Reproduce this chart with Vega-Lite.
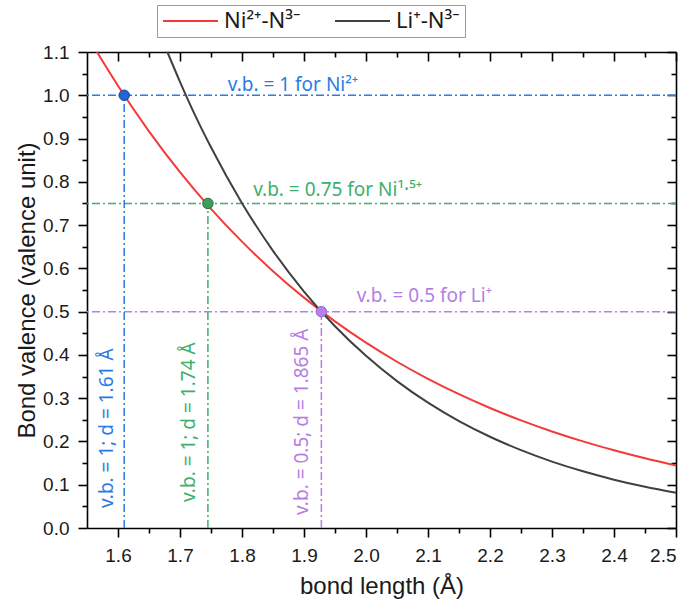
{
  "$schema": "https://vega.github.io/schema/vega-lite/v6.json",
  "width": 589,
  "height": 476,
  "autosize": {"type": "none"},
  "padding": {"left": 87, "top": 52, "right": 16, "bottom": 80},
  "background": "white",
  "config": {
    "font": "Liberation Sans",
    "view": {"stroke": null},
    "axis": {
      "grid": false,
      "domainColor": "#000000",
      "domainWidth": 1.6,
      "tickColor": "#000000",
      "tickWidth": 1.6,
      "labelColor": "#1a1a1a",
      "titleColor": "#1a1a1a",
      "labelFont": "Liberation Sans",
      "titleFont": "Liberation Sans",
      "titleFontWeight": "normal"
    },
    "legend": {"labelFont": "Noto Sans"}
  },
  "datasets": {
    "curves": [
      {"series": "Ni²⁺-N³⁻", "d": 1.566, "v": 1.1},
      {"series": "Ni²⁺-N³⁻", "d": 1.6, "v": 1.022},
      {"series": "Ni²⁺-N³⁻", "d": 1.65, "v": 0.9167},
      {"series": "Ni²⁺-N³⁻", "d": 1.7, "v": 0.8222},
      {"series": "Ni²⁺-N³⁻", "d": 1.75, "v": 0.7376},
      {"series": "Ni²⁺-N³⁻", "d": 1.8, "v": 0.6617},
      {"series": "Ni²⁺-N³⁻", "d": 1.85, "v": 0.5935},
      {"series": "Ni²⁺-N³⁻", "d": 1.9, "v": 0.5324},
      {"series": "Ni²⁺-N³⁻", "d": 1.95, "v": 0.4776},
      {"series": "Ni²⁺-N³⁻", "d": 2.0, "v": 0.4283},
      {"series": "Ni²⁺-N³⁻", "d": 2.05, "v": 0.3842},
      {"series": "Ni²⁺-N³⁻", "d": 2.1, "v": 0.3447},
      {"series": "Ni²⁺-N³⁻", "d": 2.15, "v": 0.3092},
      {"series": "Ni²⁺-N³⁻", "d": 2.2, "v": 0.2773},
      {"series": "Ni²⁺-N³⁻", "d": 2.25, "v": 0.2487},
      {"series": "Ni²⁺-N³⁻", "d": 2.3, "v": 0.2231},
      {"series": "Ni²⁺-N³⁻", "d": 2.35, "v": 0.2001},
      {"series": "Ni²⁺-N³⁻", "d": 2.4, "v": 0.1796},
      {"series": "Ni²⁺-N³⁻", "d": 2.45, "v": 0.161},
      {"series": "Ni²⁺-N³⁻", "d": 2.5, "v": 0.1445},
      {"series": "Li⁺-N³⁻", "d": 1.6796, "v": 1.1},
      {"series": "Li⁺-N³⁻", "d": 1.7, "v": 1.0311},
      {"series": "Li⁺-N³⁻", "d": 1.725, "v": 0.9518},
      {"series": "Li⁺-N³⁻", "d": 1.75, "v": 0.8798},
      {"series": "Li⁺-N³⁻", "d": 1.8, "v": 0.7507},
      {"series": "Li⁺-N³⁻", "d": 1.85, "v": 0.6405},
      {"series": "Li⁺-N³⁻", "d": 1.9, "v": 0.5465},
      {"series": "Li⁺-N³⁻", "d": 1.95, "v": 0.4663},
      {"series": "Li⁺-N³⁻", "d": 2.0, "v": 0.3979},
      {"series": "Li⁺-N³⁻", "d": 2.05, "v": 0.3395},
      {"series": "Li⁺-N³⁻", "d": 2.1, "v": 0.2896},
      {"series": "Li⁺-N³⁻", "d": 2.15, "v": 0.2471},
      {"series": "Li⁺-N³⁻", "d": 2.2, "v": 0.2109},
      {"series": "Li⁺-N³⁻", "d": 2.25, "v": 0.1799},
      {"series": "Li⁺-N³⁻", "d": 2.3, "v": 0.1535},
      {"series": "Li⁺-N³⁻", "d": 2.35, "v": 0.131},
      {"series": "Li⁺-N³⁻", "d": 2.4, "v": 0.1117},
      {"series": "Li⁺-N³⁻", "d": 2.45, "v": 0.0953},
      {"series": "Li⁺-N³⁻", "d": 2.5, "v": 0.0814}
    ],
    "levels": [
      {"ion": "Ni2+", "d": 1.61, "v": 1.0, "v0": 0},
      {"ion": "Ni1.5+", "d": 1.745, "v": 0.75, "v0": 0},
      {"ion": "Li+", "d": 1.928, "v": 0.5, "v0": 0}
    ],
    "hlabels": [
      {"ion": "Ni2+", "d": 1.777, "v": 1.011, "text": "v.b. = 1 for Ni²⁺"},
      {"ion": "Ni1.5+", "d": 1.818, "v": 0.768, "text": "v.b. = 0.75 for Ni¹·⁵⁺"},
      {"ion": "Li+", "d": 1.985, "v": 0.522, "text": "v.b. = 0.5 for Li⁺"}
    ],
    "vlabels": [
      {"ion": "Ni2+", "d": 1.583, "v": 0.046, "text": "v.b. = 1; d = 1.61 Å"},
      {"ion": "Ni1.5+", "d": 1.7145, "v": 0.06, "text": "v.b. = 1; d = 1.74 Å"},
      {"ion": "Li+", "d": 1.897, "v": 0.03, "text": "v.b. = 0.5; d = 1.865 Å"}
    ]
  },
  "layer": [
    {
      "data": {"name": "levels"},
      "mark": {"type": "rule", "strokeWidth": 1.5, "strokeDash": [8, 3, 2, 3]},
      "encoding": {
        "y": {"field": "v", "type": "quantitative", "scale": {"domain": [0, 1.1], "nice": false}, "axis": null},
        "color": {"field": "ion", "type": "nominal", "scale": {"domain": ["Ni2+", "Ni1.5+", "Li+"], "range": ["#2B7BE4", "#3DB06B", "#B57EE5"]}, "legend": null}
      }
    },
    {
      "data": {"name": "levels"},
      "mark": {"type": "rule", "strokeWidth": 1.5, "strokeDash": [8, 3, 2, 3]},
      "encoding": {
        "x": {"field": "d", "type": "quantitative", "scale": {"domain": [1.55, 2.5], "nice": false}, "axis": null},
        "y": {"field": "v0", "type": "quantitative", "axis": null},
        "y2": {"field": "v"},
        "color": {"field": "ion", "type": "nominal", "scale": {"domain": ["Ni2+", "Ni1.5+", "Li+"], "range": ["#2B7BE4", "#3DB06B", "#B57EE5"]}, "legend": null}
      }
    },
    {
      "data": {"name": "curves"},
      "mark": {"type": "line", "strokeWidth": 2, "interpolate": "monotone"},
      "encoding": {
        "x": {"field": "d", "type": "quantitative",
              "axis": {"orient": "bottom", "values": [1.6, 1.7, 1.8, 1.9, 2.0, 2.1, 2.2, 2.3, 2.4, 2.5], "format": ".1f", "tickSize": 9, "labelFontSize": 19, "labelPadding": 9, "title": "bond length (Å)", "titleFontSize": 24, "titlePadding": 9}},
        "y": {"field": "v", "type": "quantitative",
              "axis": {"orient": "left", "values": [0, 0.1, 0.2, 0.3, 0.4, 0.5, 0.6, 0.7, 0.8, 0.9, 1.0, 1.1], "format": ".1f", "tickSize": 9, "labelFontSize": 19, "labelPadding": 9, "title": "Bond valence (valence unit)", "titleFontSize": 24, "titlePadding": 3}},
        "color": {"field": "series", "type": "nominal",
                  "scale": {"domain": ["Ni²⁺-N³⁻", "Li⁺-N³⁻"], "range": ["#F23A3A", "#404040"]},
                  "legend": {"orient": "none", "legendX": 70, "legendY": -47, "direction": "horizontal", "title": null,
                             "strokeColor": "#9a9a9a", "fillColor": "#ffffff", "padding": 5,
                             "symbolType": "M-1,0H4.5", "symbolSize": 400, "symbolStrokeWidth": 2,
                             "labelFontSize": 22, "labelColor": "#1a1a1a", "labelOffset": 40, "columnPadding": 30, "labelLimit": 300}}
      }
    },
    {
      "data": {"name": "levels"},
      "mark": {"type": "point", "filled": true, "size": 110, "strokeWidth": 1, "opacity": 1, "shape": "circle"},
      "encoding": {
        "x": {"field": "d", "type": "quantitative",
              "axis": {"orient": "top", "values": [1.6, 1.7, 1.8, 1.9, 2.0, 2.1, 2.2, 2.3, 2.4, 2.5], "tickSize": -9, "labels": false, "domain": true, "title": null}},
        "y": {"field": "v", "type": "quantitative",
              "axis": {"orient": "right", "values": [0, 0.1, 0.2, 0.3, 0.4, 0.5, 0.6, 0.7, 0.8, 0.9, 1.0, 1.1], "tickSize": -9, "labels": false, "domain": true, "title": null}},
        "fill": {"field": "ion", "type": "nominal", "scale": {"domain": ["Ni2+", "Ni1.5+", "Li+"], "range": ["#1F66D6", "#3A9E5C", "#B582E8"]}, "legend": null},
        "stroke": {"field": "ion", "type": "nominal", "scale": {"domain": ["Ni2+", "Ni1.5+", "Li+"], "range": ["#17479A", "#23703C", "#9460CC"]}, "legend": null}
      }
    },
    {
      "data": {"name": "hlabels"},
      "mark": {"type": "text", "align": "left", "baseline": "alphabetic", "fontSize": 19, "font": "Noto Sans"},
      "encoding": {
        "x": {"field": "d", "type": "quantitative",
              "axis": {"orient": "top", "values": [1.65, 1.75, 1.85, 1.95, 2.05, 2.15, 2.25, 2.35, 2.45], "tickSize": -5, "labels": false, "domain": false, "title": null}},
        "y": {"field": "v", "type": "quantitative",
              "axis": {"orient": "right", "values": [0.05, 0.15, 0.25, 0.35, 0.45, 0.55, 0.65, 0.75, 0.85, 0.95, 1.05], "tickSize": -5, "labels": false, "domain": false, "title": null}},
        "text": {"field": "text"},
        "color": {"field": "ion", "type": "nominal", "scale": {"domain": ["Ni2+", "Ni1.5+", "Li+"], "range": ["#2B7BE4", "#3DB06B", "#B57EE5"]}, "legend": null}
      }
    },
    {
      "data": {"name": "vlabels"},
      "mark": {"type": "text", "align": "left", "baseline": "middle", "angle": 270, "fontSize": 19, "font": "Noto Sans"},
      "encoding": {
        "x": {"field": "d", "type": "quantitative",
              "axis": {"orient": "bottom", "values": [1.65, 1.75, 1.85, 1.95, 2.05, 2.15, 2.25, 2.35, 2.45], "tickSize": 5, "labels": false, "domain": false, "title": null}},
        "y": {"field": "v", "type": "quantitative",
              "axis": {"orient": "left", "values": [0.05, 0.15, 0.25, 0.35, 0.45, 0.55, 0.65, 0.75, 0.85, 0.95, 1.05], "tickSize": 5, "labels": false, "domain": false, "title": null}},
        "text": {"field": "text"},
        "color": {"field": "ion", "type": "nominal", "scale": {"domain": ["Ni2+", "Ni1.5+", "Li+"], "range": ["#2B7BE4", "#3DB06B", "#B57EE5"]}, "legend": null}
      }
    }
  ],
  "resolve": {
    "scale": {"color": "independent"},
    "axis": {"x": "independent", "y": "independent"}
  }
}
